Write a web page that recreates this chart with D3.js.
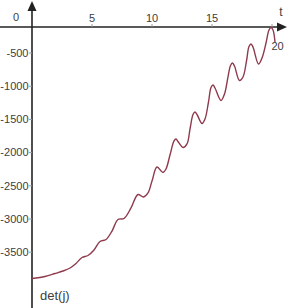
<!DOCTYPE html>
<html><head><meta charset="utf-8">
<script src="https://cdn.jsdelivr.net/npm/d3@7"></script>
<style>body{margin:0;background:#fff}svg{display:block}text{font-family:"Liberation Sans",Arial,sans-serif}</style>
</head><body><svg id="c" width="296" height="308"></svg>
<script>
// Data
const tValues = [0,1.083,1.917,2.583,3.167,3.667,4.167,4.667,5.167,5.667,6.167,6.667,7.167,7.667,8.25,8.833,9.29,9.667,10.0,10.417,10.917,11.167,11.5,11.833,12.0,12.167,12.583,12.917,13.167,13.417,13.583,13.75,14.167,14.417,14.708,14.917,15.083,15.25,15.75,16.042,16.333,16.542,16.708,16.875,17.29,17.583,17.875,18.083,18.25,18.417,18.875,19.167,19.5,19.75,19.917,20.083,20.25];
const detValues = [-3896,-3866,-3821,-3783,-3738,-3670,-3580,-3550,-3467,-3339,-3309,-3181,-3007,-2992,-2834,-2631,-2669,-2608,-2428,-2217,-2300,-2247,-2036,-1825,-1795,-1833,-1923,-1870,-1645,-1426,-1389,-1426,-1562,-1494,-1238,-1020,-982,-1027,-1215,-1117,-861,-688,-651,-696,-914,-861,-620,-402,-364,-410,-666,-575,-349,-154,-116,-154,-334];
const xTicks = [5,10,15,20];
const yTicks = [-500,-1000,-1500,-2000,-2500,-3000,-3500];
const xAxisAt = -108;

const svg = d3.select("#c");
const x = d3.scaleLinear().domain([0,20]).range([32,272]);
const y = d3.scaleLinear().domain([0,-4000]).range([19.8,285.4]);
const y0 = y(xAxisAt), x0 = x(0);
const tc = "#404040";

svg.append("line").attr("x1",0).attr("x2",282).attr("y1",y0).attr("y2",y0).attr("stroke","#222").attr("stroke-width",1.6);
svg.append("line").attr("x1",x0).attr("x2",x0).attr("y1",8).attr("y2",308).attr("stroke","#222").attr("stroke-width",1.6);
svg.append("path").attr("d",`M${x0},1 L${x0-4.5},11 L${x0+4.5},11 Z`).attr("fill","#222");
svg.append("path").attr("d",`M287,${y0} L277,${y0-4.5} L277,${y0+4.5} Z`).attr("fill","#222");

const xg = svg.append("g");
xTicks.forEach(t=>{
  xg.append("line").attr("x1",x(t)).attr("x2",x(t)).attr("y1",y0-3).attr("y2",y0).attr("stroke","#999").attr("stroke-width",1);
  const lab = xg.append("text").attr("font-size",11).attr("fill",tc).text(t);
  if(t===20) lab.attr("x",x(t)+5.5).attr("y",y0+23).attr("text-anchor","middle");
  else lab.attr("x",x(t)).attr("y",y0-5).attr("text-anchor","middle");
});
svg.append("text").attr("x",16).attr("y",y0-6).attr("font-size",11).attr("fill",tc).attr("text-anchor","middle").text("0");

const yg = svg.append("g");
yTicks.forEach(v=>{
  yg.append("line").attr("x1",x0-3).attr("x2",x0).attr("y1",y(v)).attr("y2",y(v)).attr("stroke","#999").attr("stroke-width",1);
  yg.append("text").attr("x",x0-3.5).attr("y",y(v)).attr("dy","0.35em").attr("font-size",11).attr("fill",tc).attr("text-anchor","end").text(v);
});

svg.append("text").attr("x",281).attr("y",16).attr("font-size",12).attr("fill",tc).attr("text-anchor","middle").text("t");
svg.append("text").attr("x",40).attr("y",300).attr("font-size",13).attr("fill",tc).text("det(j)");

const pts = tValues.map((t,i)=>[t,detValues[i]]);
const line = d3.line().x(d=>x(d[0])).y(d=>y(d[1])).curve(d3.curveCatmullRom.alpha(0.5));
svg.append("path").datum(pts).attr("d",line).attr("fill","none").attr("stroke","#8e3a4c").attr("stroke-width",1.4);
</script></body></html>
